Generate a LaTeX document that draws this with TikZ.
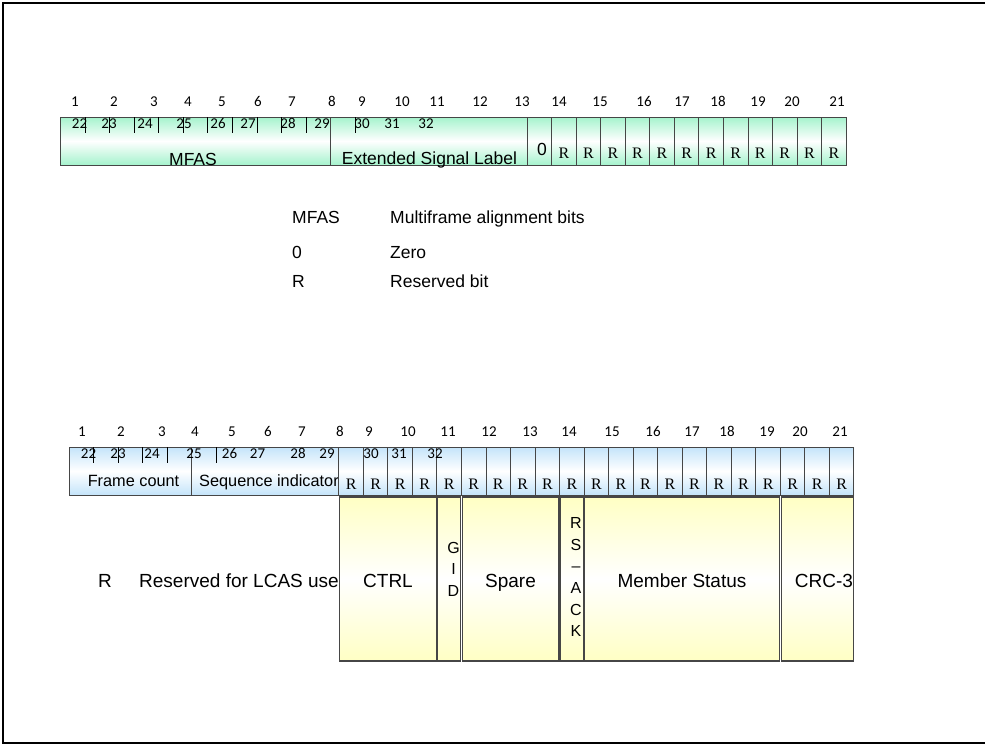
\documentclass[tikz,border=0pt]{standalone}
\usepackage{fontspec}
\newfontfamily\fnum{Carlito}
\newfontfamily\fsans{Liberation Sans}
\newfontfamily\fser{Liberation Serif}
\definecolor{grn}{RGB}{165,243,205}
\definecolor{blu}{RGB}{196,228,250}
\definecolor{yel}{RGB}{255,255,196}
\definecolor{edge}{RGB}{70,70,70}
\begin{document}
\begin{tikzpicture}[x=1pt,y=-1pt,
  num/.style={font=\fnum\fontsize{15}{18}\selectfont, inner sep=0pt, anchor=base},
  lab/.style={font=\fsans\fontsize{17.5}{20}\selectfont, inner sep=0pt, anchor=base},
  slab/.style={font=\fsans\fontsize{16.3}{20}\selectfont, inner sep=0pt, anchor=base},
  blab/.style={font=\fsans\fontsize{19}{22}\selectfont, inner sep=0pt, anchor=base},
  vlab/.style={font=\fsans\fontsize{16}{20}\selectfont, inner sep=0pt, anchor=base},
  rr/.style={font=\fser\fontsize{16}{19}\selectfont, inner sep=0pt, anchor=base},
  cell/.style={draw=edge, line width=1pt},
  tick/.style={draw=black, line width=0.9pt},
  gbar/.style={top color=grn, bottom color=grn, middle color=white},
  bbar/.style={top color=blu, bottom color=blu, middle color=white},
  ybox/.style={top color=yel, bottom color=yel, middle color=white, draw=edge, line width=1.2pt}]
\useasboundingbox (0,0) rectangle (985,744);
% outer frame
\coordinate (f1) at (995,2.5);
\coordinate (f2) at (3,2.5);
\coordinate (f3) at (3,742.5);
\coordinate (f4) at (995,742.5);
\draw[line width=2pt] (f1) -- (f2) -- (f3) -- (f4);

% ================= top bar =================
\shade[gbar] (60.6,117) rectangle (846,165);
\draw[cell] (60.6,117) rectangle (330.6,165);
\draw[cell] (330.6,117) rectangle (527,165);
\foreach \i in {19,...,31} \draw[cell] ({60.6+\i*24.55},117) rectangle +(24.55,48);
\foreach \i in {1,...,10,12,...,18} \draw[tick] ({60.6+\i*24.55},117) -- +(0,16);
\foreach \x/\t in {75/1,114/2,154/3,188/4,222/5,258/6,292/7,332/8,362/9,402/10,437/11,480/12,522/13,559/14,600/15,644/16,682/17,718/18,758/19,792/20,837/21}
  \node[num] (ta\t) at (\x,106) {\t};
\foreach \x/\t in {79.5/22,109/23,145/24,184/25,218/26,248/27,288/28,322/29,362/30,392/31,426/32}
  \node[num] (tb\t) at (\x,128) {\t};
\node[lab] (mfas) at (193,165) {MFAS};
\node[lab] (esl) at (429.5,164) {Extended Signal Label};
\node[lab] (zero) at (542,155) {0};
\foreach \i in {20,...,31} \node[rr] (tr\i) at ({60.6+(\i+0.5)*24.55},158) {R};

% ================= legend =================
\node[lab, anchor=base west] (l1) at (292,223) {MFAS};
\node[lab, anchor=base west] (l1t) at (390,223) {Multiframe alignment bits};
\node[lab, anchor=base west] (l2) at (292,258) {0};
\node[lab, anchor=base west] (l2t) at (390,258) {Zero};
\node[lab, anchor=base west] (l3) at (292,287) {R};
\node[lab, anchor=base west] (l3t) at (390,287) {Reserved bit};

% ================= bottom bar =================
\shade[bbar] (69,447) rectangle (854,495);
\node[slab] (fc) at (133.5,486) {Frame count};
\node[slab, anchor=base west] (si) at (199,486) {Sequence indicator};
\draw[cell] (69,447) rectangle (191.6,495);
\draw[cell] (191.6,447) rectangle (338.8,495);
\foreach \i in {11,...,31} \draw[cell] ({69+\i*24.53},447) rectangle +(24.53,48);
\foreach \i in {1,...,4,6,...,10} \draw[tick] ({69+\i*24.53},447) -- +(0,16);
\foreach \x/\t in {82/1,121/2,162/3,195/4,232/5,268/6,302/7,340/8,369/9,408/10,448/11,489/12,530/13,569/14,612/15,653/16,692/17,727/18,767/19,800/20,840/21}
  \node[num] (ba\t) at (\x,436) {\t};
\foreach \x/\t in {88.5/22,118/23,152/24,194/25,229.5/26,257.5/27,298/28,327/29,371/30,399/31,435/32}
  \node[num] (bb\t) at (\x,458) {\t};
\foreach \i in {11,...,31} \node[rr] (br\i) at ({69+(\i+0.5)*24.53},489) {R};

% ================= LCAS fields =================
\shade[ybox] (339.5,497) rectangle (436.3,661);
\shade[ybox] (437.7,497) rectangle (460.8,661);
\shade[ybox] (462.2,497) rectangle (558.9,661);
\shade[ybox] (560.3,497) rectangle (583.4,661);
\shade[ybox] (584.8,497) rectangle (779.7,661);
\shade[ybox] (781.1,497) rectangle (853.5,661);
\node[blab] (ctrl) at (388,587) {CTRL};
\node[vlab] (g1) at (453.5,553) {G};
\node[vlab] (g2) at (453.5,574) {I};
\node[vlab] (g3) at (453.5,596) {D};
\node[blab] (spare) at (510.5,587) {Spare};
\node[vlab] (r1) at (576,528) {R};
\node[vlab] (r2) at (576,550) {S};
\node[vlab] (r3) at (576,571) {–};
\node[vlab] (r4) at (576,593) {A};
\node[vlab] (r5) at (576,615) {C};
\node[vlab] (r6) at (576,636) {K};
\node[blab] (ms) at (682,587) {Member Status};
\node[blab] (crc) at (824,587) {CRC-3};
\node[blab] (lr) at (105,587) {R};
\node[blab, anchor=base west] (lrt) at (139,587) {Reserved for LCAS use};
\end{tikzpicture}
\end{document}
